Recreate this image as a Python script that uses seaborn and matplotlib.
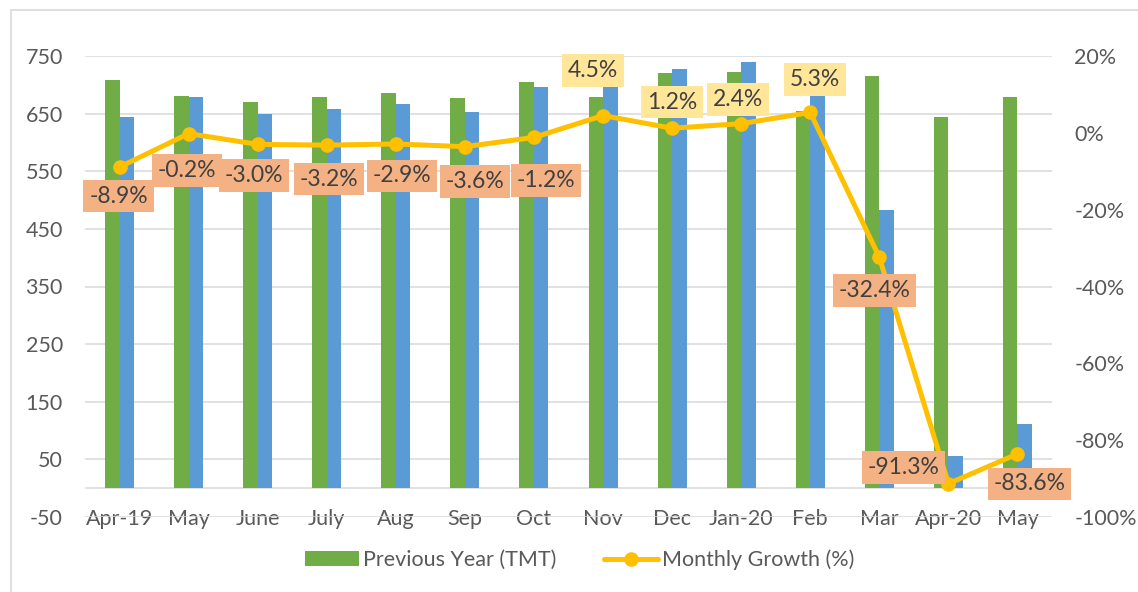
import numpy as np
import pandas as pd
import matplotlib
matplotlib.use("Agg")
import matplotlib.pyplot as plt
from matplotlib.patches import Patch, Rectangle
from matplotlib.lines import Line2D
import seaborn as sns

# ---- data ----
months = ["Apr-19", "May", "June", "July", "Aug", "Sep", "Oct", "Nov", "Dec",
          "Jan-20", "Feb", "Mar", "Apr-20", "May"]
previous_year = [708, 681, 670, 679, 686, 677, 705, 678, 720, 722, 655, 715, 644, 679]
current_year = [645, 679, 650, 658, 666, 653, 697, 709, 728, 740, 690, 483, 56, 111]
monthly_growth = [-8.9, -0.2, -3.0, -3.2, -2.9, -3.6, -1.2, 4.5, 1.2, 2.4, 5.3,
                  -32.4, -91.3, -83.6]

# label offsets (pixels) from point to label centre (style)
label_offsets = [(-1, -29), (-2, -37), (-4, -31), (2, -34), (6, -32), (10, -35),
                 (12, -43), (-10, 45), (0, 26), (-3, 24), (5, 33), (-5, -33),
                 (-45, 16), (12, -30)]

W, H = 1138, 592
sns.set_theme(style="white")
plt.rcParams["font.family"] = ["Lato", "DejaVu Sans"]
plt.rcParams["axes.unicode_minus"] = False

fig = plt.figure(figsize=(W / 100, H / 100), dpi=100)
ax = fig.add_axes([85 / W, 1 - 517 / H, 967 / W, 461 / H])

idx = list(range(len(months)))
df = pd.DataFrame({
    "idx": idx * 2,
    "value": previous_year + current_year,
    "series": ["Previous Year (TMT)"] * len(idx) + ["Current Year (TMT)"] * len(idx),
})
green, blue, gold = "#70AD47", "#5B9BD5", "#FFC000"
sns.barplot(data=df, x="idx", y="value", hue="series",
            palette={"Previous Year (TMT)": green, "Current Year (TMT)": blue},
            width=0.42, gap=0, dodge=True, ax=ax, legend=False,
            saturation=1, linewidth=0, zorder=3)

ax.set_xlim(-0.5, len(months) - 0.5)
ax.set_ylim(-50, 750)
ax.set_yticks(np.arange(-50, 751, 100))
ax.set_xticks(idx)
ax.set_xticklabels(months)
ax.set_xlabel("")
ax.set_ylabel("")
for s in ax.spines.values():
    s.set_visible(False)
ax.grid(axis="y", color="#D9D9D9", linewidth=1.1, zorder=0)
ax.grid(axis="x", visible=False)
ax.axhline(0, color="#D9D9D9", linewidth=1.1, zorder=2)
ax.tick_params(axis="y", length=0, pad=16, labelsize=15.5, labelcolor="#595959")
ax.tick_params(axis="x", length=0, pad=-6, labelsize=15.5, labelcolor="#595959")
ax.set_axisbelow(True)

ax2 = ax.twinx()
ax2.set_position(ax.get_position())
sns.lineplot(x=idx, y=monthly_growth, ax=ax2, color=gold, linewidth=3.6,
             marker="o", markersize=10.5, markeredgewidth=0, zorder=5)
ax2.set_ylim(-100, 20)
ax2.set_yticks(np.arange(-100, 21, 20))
ax2.set_yticklabels([f"{v}%" for v in range(-100, 21, 20)])
for s in ax2.spines.values():
    s.set_visible(False)
ax2.grid(False)
ax2.tick_params(axis="y", length=0, pad=16, labelsize=15.5, labelcolor="#595959")
ax2.set_xlim(-0.5, len(months) - 0.5)

for i, g in enumerate(monthly_growth):
    dx, dy = label_offsets[i]
    fc = "#FFE699" if g > 0 else "#F4B183"
    ax2.annotate(f"{g:.1f}%", xy=(i, g), xytext=(dx * 0.72, dy * 0.72),
                 textcoords="offset points", ha="center", va="center",
                 fontsize=16.5, color="#404040", zorder=6,
                 bbox=dict(boxstyle="square,pad=0.25", fc=fc, ec="none"))

handles = [Patch(facecolor=green, edgecolor="none"),
           Line2D([0], [0], color=gold, linewidth=3.6, marker="o", markersize=10.5,
                  markeredgewidth=0)]
fig.legend(handles, ["Previous Year (TMT)", "Monthly Growth (%)"],
           loc="center", bbox_to_anchor=(580 / W, 1 - 560 / H), ncol=2,
           frameon=False, fontsize=15.5, labelcolor="#595959",
           handlelength=2.5, handleheight=0.7, handletextpad=0.2,
           columnspacing=2.2)

fig.add_artist(Rectangle((11 / W, -0.05), 1.1, (592 - 10) / H + 0.05,
                         transform=fig.transFigure, fill=False,
                         edgecolor="#D9D9D9", linewidth=1.2))

fig.savefig("out.png", dpi=100)
